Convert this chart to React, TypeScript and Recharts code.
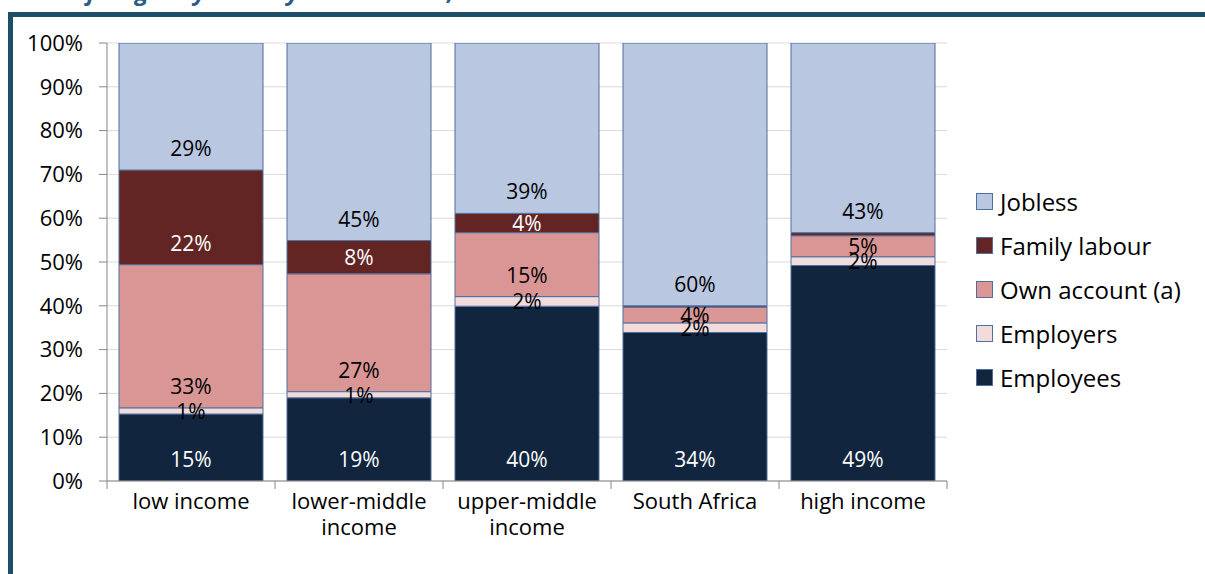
import React from "react";
import { BarChart, Bar, XAxis, YAxis, CartesianGrid, LabelList } from "recharts";

const categories = ["low income", "lower-middle\nincome", "upper-middle\nincome", "South Africa", "high income"];
const employees = [15.3, 19.0, 39.9, 33.9, 49.2];
const employers = [1.4, 1.4, 2.2, 2.2, 2.0];
const ownAccount = [32.7, 26.9, 14.6, 3.6, 4.8];
const familyLabour = [21.6, 7.6, 4.4, 0.3, 0.7];
const jobless = [29.0, 45.1, 38.9, 60.0, 43.3];
const yTicks = [0, 10, 20, 30, 40, 50, 60, 70, 80, 90, 100];

const data = categories.map((c, i) => ({
  cat: c,
  employees: employees[i],
  employers: employers[i],
  ownAccount: ownAccount[i],
  familyLabour: familyLabour[i],
  jobless: jobless[i],
}));

const FONT = "'Open Sans', sans-serif";
const series = [
  { key: "employees", name: "Employees", fill: "#11253F", label: "#ffffff" },
  { key: "employers", name: "Employers", fill: "#F2DCDB", label: "#000000" },
  { key: "ownAccount", name: "Own account (a)", fill: "#D99694", label: "#000000" },
  { key: "familyLabour", name: "Family labour", fill: "#632523", label: "#ffffff" },
  { key: "jobless", name: "Jobless", fill: "#B9C7E0", label: "#000000" },
];

const makeLabel = (color: string) => (props: any) => {
  const { x, y, width, height, value } = props;
  if (value == null || value < 1) return null;
  const cy = Math.max(y + height / 2, y + height - 22);
  return (
    <text
      x={x + width / 2}
      y={cy}
      textAnchor="middle"
      dominantBaseline="central"
      fill={color}
      fontSize={21}
      fontFamily={FONT}
    >
      {Math.round(value)}%
    </text>
  );
};

const CatTick = (props: any) => {
  const { x, y, payload, index, visibleTicksCount, width } = props;
  const n = visibleTicksCount || categories.length;
  const band = width / n;
  const axisY = y - 4;
  const lines = String(payload.value).split("\n");
  return (
    <g>
      <line x1={x - band / 2} x2={x - band / 2} y1={axisY} y2={axisY + 8} stroke="#868686" />
      {index === n - 1 && (
        <line x1={x + band / 2} x2={x + band / 2} y1={axisY} y2={axisY + 8} stroke="#868686" />
      )}
      <text x={x} y={y + 24} textAnchor="middle" fill="#000" fontSize={22} fontFamily={FONT}>
        {lines.map((l, i) => (
          <tspan key={i} x={x} dy={i === 0 ? 0 : 26}>
            {l}
          </tspan>
        ))}
      </text>
    </g>
  );
};

const legendItems = [...series].reverse();

export default function App() {
  return (
    <div style={{ position: "fixed", left: 0, top: 0, width: 1205, height: 574, overflow: "hidden", background: "#fff" }}>
      <div
        style={{
          position: "absolute",
          left: -40,
          top: -26,
          whiteSpace: "nowrap",
          fontFamily: FONT,
          fontWeight: 700,
          fontStyle: "italic",
          fontSize: 24,
          color: "#2B5B86",
        }}
      >
        Structure of wages by country income level, 2010
      </div>
      <div
        style={{
          position: "absolute",
          left: 8,
          top: 12,
          width: 1300,
          height: 700,
          borderLeft: "5px solid #1D4E68",
          borderTop: "5px solid #1D4E68",
        }}
      />
      <div style={{ position: "absolute", left: 0, top: 0 }}>
        <BarChart
          width={1205}
          height={574}
          data={data}
          margin={{ top: 43, right: 258, bottom: 13, left: 0 }}
          barCategoryGap={12}
        >
          <CartesianGrid vertical={false} stroke="#D9D9D9" />
          <XAxis
            dataKey="cat"
            height={80}
            axisLine={{ stroke: "#868686" }}
            tickLine={false}
            tickSize={0}
            tickMargin={4}
            interval={0}
            tick={<CatTick />}
          />
          <YAxis
            width={107}
            domain={[0, 100]}
            ticks={yTicks}
            allowDataOverflow
            tickFormatter={(v: number) => `${v}%`}
            tick={{ fill: "#000", fontSize: 22, fontFamily: FONT }}
            axisLine={{ stroke: "#868686" }}
            tickLine={{ stroke: "#868686" }}
            tickSize={8}
            tickMargin={16}
          />
          {series.map((s) => (
            <Bar
              key={s.key}
              dataKey={s.key}
              name={s.name}
              stackId="a"
              fill={s.fill}
              stroke="#4F6F9F"
              strokeWidth={1}
              isAnimationActive={false}
            >
              <LabelList dataKey={s.key} content={makeLabel(s.label)} />
            </Bar>
          ))}
        </BarChart>
      </div>
      <div style={{ position: "absolute", left: 976, top: 179, fontFamily: FONT, fontSize: 24 }}>
        {legendItems.map((it) => (
          <div key={it.key} style={{ display: "flex", alignItems: "center", height: 44, whiteSpace: "nowrap" }}>
            <span
              style={{
                display: "inline-block",
                width: 15,
                height: 15,
                background: it.fill,
                border: "1px solid #4F6F9F",
                marginRight: 7,
              }}
            />
            <span style={{ color: "#000" }}>{it.name}</span>
          </div>
        ))}
      </div>
    </div>
  );
}
